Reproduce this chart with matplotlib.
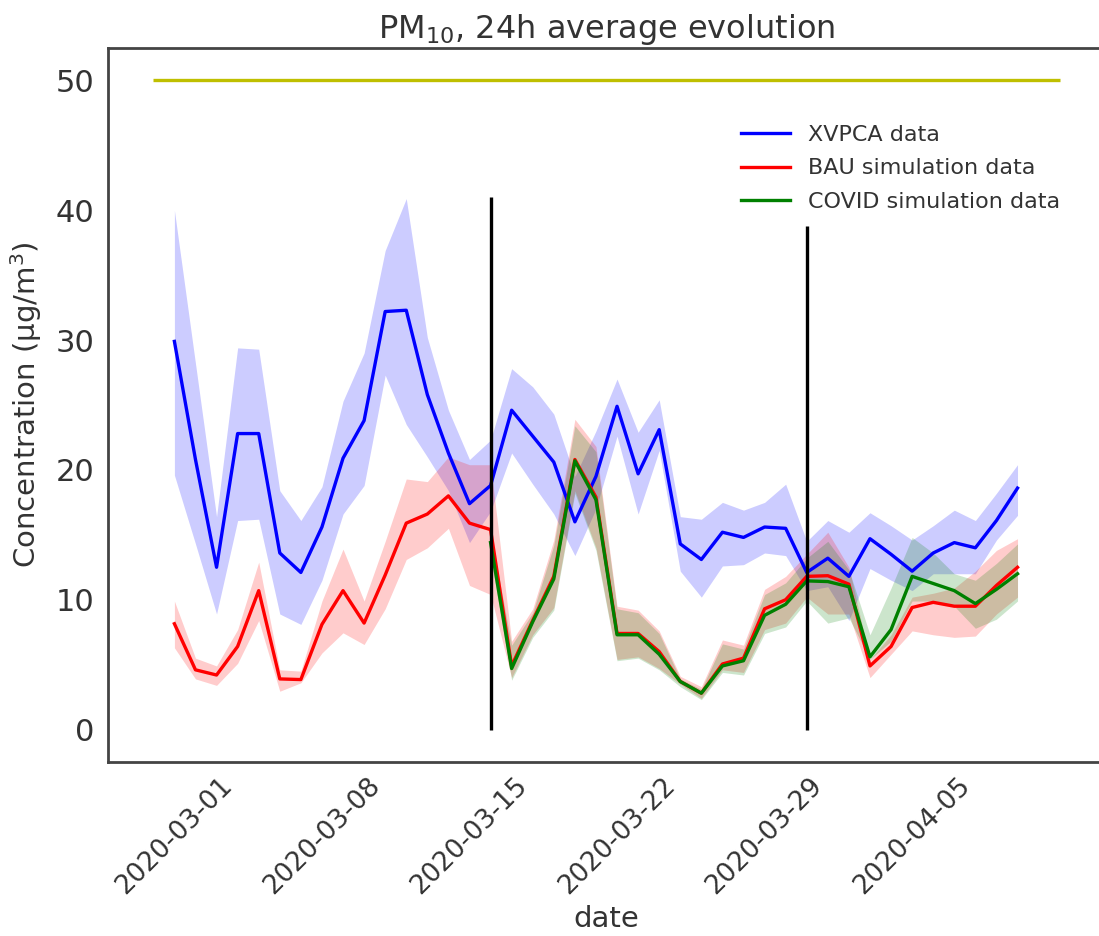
import numpy as np
import pandas as pd
import matplotlib
matplotlib.use("Agg")
import matplotlib.pyplot as plt
import matplotlib.dates as mdates

dates = pd.date_range("2020-03-01", "2020-04-10", freq="D")

# XVPCA measurements (mean and band)
obs = [29.9, 20.8, 12.5, 22.8, 22.8, 13.6, 12.1, 15.6, 20.9, 23.8,
       32.2, 32.3, 25.8, 21.3, 17.4, 18.8, 24.6, 22.6, 20.6, 16.0,
       19.5, 24.9, 19.7, 23.1, 14.3, 13.1, 15.2, 14.8, 15.6, 15.5,
       12.1, 13.2, 11.8, 14.7, 13.5, 12.2, 13.6, 14.4, 14.0, 16.1, 18.6]
obs_hi = [40.0, 28.2, 16.4, 29.4, 29.3, 18.4, 16.1, 18.7, 25.3, 29.0,
          36.9, 40.9, 30.2, 24.6, 20.8, 22.3, 27.8, 26.4, 24.3, 19.5,
          23.0, 27.0, 22.9, 25.4, 16.4, 16.2, 17.5, 16.9, 17.5, 18.9,
          14.5, 16.1, 15.2, 16.7, 15.7, 14.6, 15.7, 16.9, 16.1, 18.2, 20.4]
obs_lo = [19.6, 14.3, 8.9, 16.1, 16.2, 8.9, 8.1, 11.5, 16.6, 18.8,
          27.3, 23.5, 21.0, 18.4, 14.4, 16.8, 21.3, 18.9, 16.6, 13.4,
          17.0, 22.6, 16.6, 21.5, 12.2, 10.2, 12.6, 12.7, 13.6, 13.4,
          10.7, 11.0, 8.4, 12.4, 11.5, 10.7, 12.0, 12.0, 12.0, 14.6, 16.5]

# business-as-usual run
bau = [8.15, 4.6, 4.2, 6.4, 10.7, 3.9, 3.85, 8.1, 10.7, 8.2,
       11.9, 15.9, 16.6, 18.0, 15.9, 15.4, 4.9, 8.4, 11.8, 20.8,
       17.9, 7.4, 7.4, 6.0, 3.7, 2.8, 5.05, 5.5, 9.3, 10.0,
       11.8, 11.85, 11.2, 4.9, 6.4, 9.4, 9.8, 9.5, 9.5, 11.1, 12.5]
bau_hi = [9.9, 5.5, 4.9, 7.7, 12.9, 4.6, 4.5, 9.9, 13.9, 9.9,
          14.5, 19.3, 19.1, 21.0, 20.4, 20.4, 6.8, 9.3, 14.6, 23.9,
          21.8, 9.5, 9.2, 7.6, 4.1, 3.3, 6.9, 6.5, 10.8, 11.8,
          13.5, 15.2, 12.5, 5.4, 7.3, 10.2, 10.5, 10.9, 12.2, 13.8, 14.7]
bau_lo = [6.3, 3.9, 3.4, 5.1, 8.4, 2.95, 3.6, 5.9, 7.45, 6.55,
          9.3, 13.1, 14.0, 15.5, 11.1, 10.4, 4.0, 7.3, 9.4, 18.4,
          14.0, 5.4, 5.6, 4.7, 3.5, 2.4, 4.6, 4.4, 7.7, 8.2,
          10.2, 8.9, 8.9, 4.0, 5.8, 7.6, 7.3, 7.1, 7.2, 8.9, 10.2]

# lockdown run, starts on 2020-03-16
covid = [14.4, 4.7, 8.3, 11.6, 20.7, 17.7, 7.3, 7.3, 5.8, 3.7,
         2.8, 4.9, 5.3, 8.8, 9.65, 11.45, 11.4, 11.0, 5.6, 7.7,
         11.8, 11.25, 10.7, 9.7, 10.8, 12.0]
covid_hi = [15.2, 6.5, 9.0, 14.2, 23.4, 21.4, 9.3, 9.0, 7.4, 3.9,
            3.1, 6.6, 6.2, 10.4, 11.3, 13.2, 14.5, 12.3, 7.3, 10.9,
            14.8, 13.6, 12.0, 11.5, 12.8, 14.3]
covid_lo = [13.4, 3.8, 7.1, 9.2, 18.2, 13.8, 5.3, 5.5, 4.6, 3.3,
            2.3, 4.4, 4.2, 7.4, 7.9, 9.9, 8.2, 8.6, 5.4, 6.8,
            9.9, 9.9, 9.5, 7.8, 8.5, 9.9]
covid_dates = dates[15:]

limit = 50
limit_start, limit_end = "2020-02-29", "2020-04-12"
events = ["2020-03-16", "2020-03-31"]
event_tops = [41.0, 38.8]
week_ticks = pd.date_range("2020-03-01", "2020-04-05", freq="7D")

plt.rcParams["font.family"] = "DejaVu Sans"
plt.rcParams["text.color"] = "#333333"
plt.rcParams["axes.labelcolor"] = "#333333"
plt.rcParams["xtick.color"] = "#333333"
plt.rcParams["ytick.color"] = "#333333"

fig = plt.figure(figsize=(10.99, 9.36), dpi=100)
ax = fig.add_axes([108 / 1099, 1 - 762 / 936, 997 / 1099, 714 / 936])

ax.hlines(limit, pd.Timestamp(limit_start), pd.Timestamp(limit_end), color="y", lw=2.4)

ax.plot(dates, obs, color="blue", lw=2.4, label="XVPCA data")
ax.fill_between(dates, obs_lo, obs_hi, color="blue", alpha=0.2, lw=0)
ax.plot(dates, bau, color="red", lw=2.4, label="BAU simulation data")
ax.fill_between(dates, bau_lo, bau_hi, color="red", alpha=0.2, lw=0)
ax.plot(covid_dates, covid, color="green", lw=2.4, label="COVID simulation data")
ax.fill_between(covid_dates, covid_lo, covid_hi, color="green", alpha=0.2, lw=0)

for d, top in zip(events, event_tops):
    ax.vlines(pd.Timestamp(d), 0, top, color="black", lw=2.4)

ax.set_xticks(week_ticks)
ax.xaxis.set_major_formatter(mdates.DateFormatter("%Y-%m-%d"))
ax.tick_params(axis="x", labelsize=19, rotation=45, length=0, pad=8)
ax.tick_params(axis="y", labelsize=22, length=0, pad=10)
ax.set_yticks([0, 10, 20, 30, 40, 50])

for s in ax.spines.values():
    s.set_color("#444444")
    s.set_linewidth(2)
ax.spines["right"].set_visible(False)

ax.set_title("PM$_{10}$, 24h average evolution", fontsize=23, pad=7)
ax.set_xlabel("date", fontsize=21, labelpad=4)
ax.set_ylabel("Concentration (µg/m$^3$)", fontsize=21, labelpad=8)
ax.legend(loc="upper right", bbox_to_anchor=(0.975, 0.92), frameon=False, fontsize=16,
          handlelength=2.2, handletextpad=0.8, labelspacing=0.6)

fig.savefig("out.png", dpi=100)
